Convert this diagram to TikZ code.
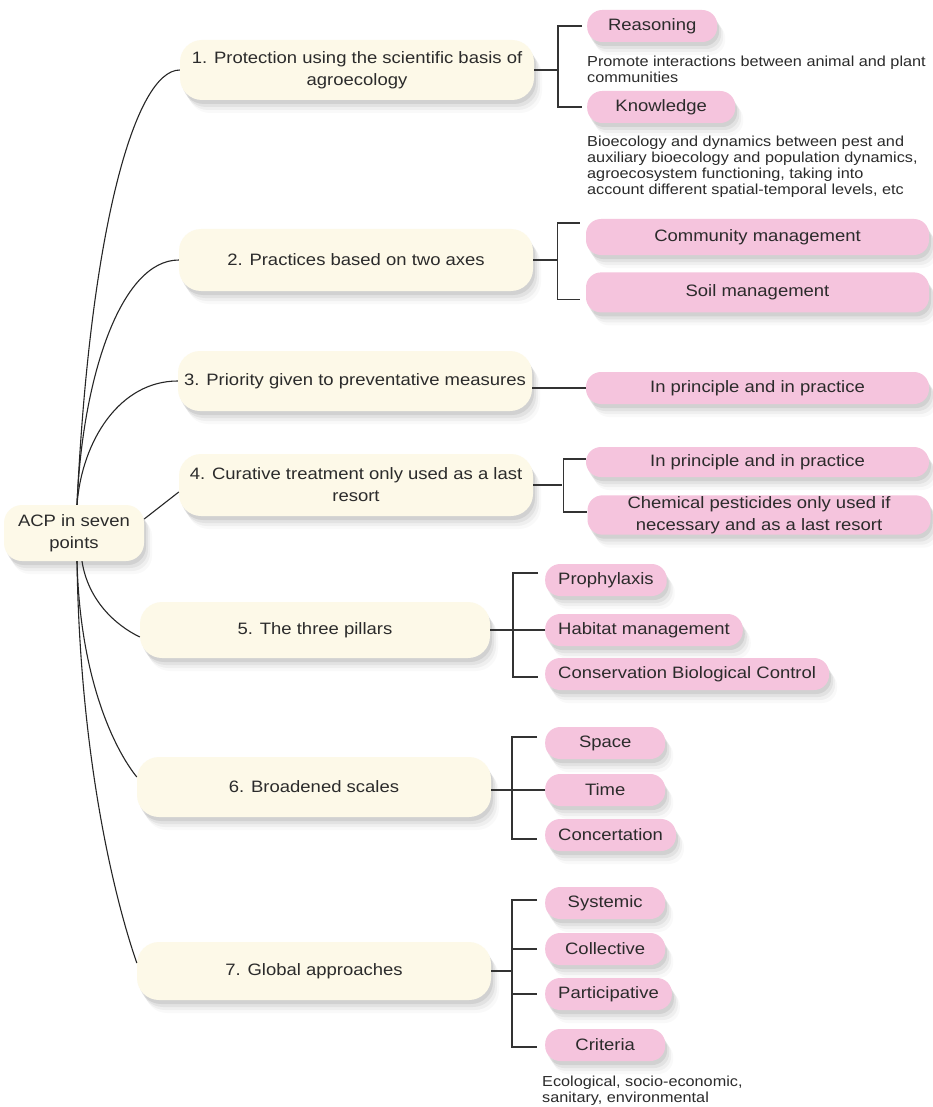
\documentclass[tikz,border=0pt]{standalone}
\usepackage{fontspec}
\setmainfont{Liberation Sans}[FakeStretch=1.12]
\usetikzlibrary{shapes,positioning,calc,shadows}
\definecolor{cream}{HTML}{FDF9E8}
\definecolor{pillpink}{HTML}{F5C4DD}
\definecolor{ink}{HTML}{2B2B2B}

\begin{document}
\begin{tikzpicture}
  [x=1pt,y=-1pt,
   every node/.style={font=\fontsize{16.5}{22}\selectfont, text=ink},
   soft/.style={
     drop shadow={shadow xshift=2pt,shadow yshift=-4pt,opacity=.07,fill=black},
     drop shadow={shadow xshift=4pt,shadow yshift=-7pt,opacity=.05,fill=black},
     drop shadow={shadow xshift=6pt,shadow yshift=-10pt,opacity=.04,fill=black},
     drop shadow={shadow xshift=8pt,shadow yshift=-13pt,opacity=.025,fill=black}
     },
   point/.style={
     rectangle,
     rounded corners=22pt,
     fill=cream,
     soft,
     minimum width=354pt,
     minimum height=60pt,
     align=center,
     inner xsep=4pt
     },
   tag/.style={
     rectangle,
     rounded corners=15pt,
     fill=pillpink,
     soft,
     minimum width=120pt,
     minimum height=32pt,
     align=center,
     inner xsep=13pt
     },
   wide/.style={tag, minimum width=343pt},
   note/.style={font=\fontsize{14.5}{16}\selectfont, align=left, inner sep=0pt},
   link/.style={line width=1.1pt, black!85},
   brace/.style={line width=1.3pt, black!80}
  ]
  \path[use as bounding box, fill=white] (0,0) rectangle (933,1107);

  % centre
  \node[point, minimum width=140pt, minimum height=56pt, rounded corners=18pt] (acp) at (74,533) {ACP in seven\\points};

  % the seven points
  \node[point] (prot) at (357,70) {1. Protection using the scientific basis of\\agroecology};
  \node[point, minimum height=62pt] (prac) at (356,260) {2. Practices based on two axes};
  \node[point] (prio) at (355,381) {3. Priority given to preventative measures};
  \node[point, minimum height=62pt] (cura) at (356,485) {4. Curative treatment only used as a last\\resort};
  \node[point, minimum width=350pt, minimum height=56pt] (pill) at (315,630) {5. The three pillars};
  \node[point] (scal) at (314,787) {6. Broadened scales};
  \node[point, minimum height=58pt] (glob) at (314,971) {7. Global approaches};

  % 1
  \node[tag, minimum width=130pt, anchor=west] (reas) at (587,26) {Reasoning};
  \node[note, below=43pt of reas.west, anchor=west] (reastext)
    {Promote interactions between animal and plant\\communities};
  \node[tag, minimum width=148pt, anchor=west] (know) at (587,107) {Knowledge};
  \node[note, below=60pt of know.west, anchor=west] (knowtext)
    {Bioecology and dynamics between pest and\\
     auxiliary bioecology and population dynamics,\\
     agroecosystem functioning, taking into\\
     account different spatial-temporal levels, etc};

  % 2
  \node[wide, minimum height=36pt] (comm) at (757.5,237) {Community management};
  \node[wide, minimum height=40pt, below=17pt of comm] (soil) {Soil management};

  % 3
  \node[wide] (prin) at (757.5,388) {In principle and in practice};

  % 4
  \node[wide, minimum height=30pt] (prinb) at (757.5,462) {In principle and in practice};
  \node[wide, inner ysep=1pt] (chem) at (759,515) {Chemical pesticides only used if\\necessary and as a last resort};

  % 5
  \node[tag, anchor=west] (prop) at (545,580) {Prophylaxis};
  \node[tag, below=50pt of prop.west, anchor=west] (habi) {Habitat management};
  \node[tag, below=94pt of prop.west, anchor=west] (cons) {Conservation Biological Control};

  % 6
  \node[tag, anchor=west] (spac) at (545,743) {Space};
  \node[tag, below=47pt of spac.west, anchor=west] (time) {Time};
  \node[tag, below=92pt of spac.west, anchor=west] (conc) {Concertation};

  % 7
  \node[tag, anchor=west] (syst) at (545,903) {Systemic};
  \node[tag, below=46pt of syst.west, anchor=west] (coll) {Collective};
  \node[tag, below=91pt of syst.west, anchor=west] (part) {Participative};
  \node[tag, below=142pt of syst.west, anchor=west] (crit) {Criteria};
  \node[note, below=46pt of crit.west, anchor=west, xshift=-3pt] (crittext)
    {Ecological, socio-economic,\\sanitary, environmental};

  % branches from the centre
  \draw[link] ($(acp.north)+(3,0)$) .. controls (90,230) and (135,70) .. (prot.west);
  \draw[link] ($(acp.north)+(3,0)$) .. controls (82,380) and (120,260) .. (prac.west);
  \draw[link] ($(acp.north)+(3,0)$) .. controls (82,440) and (120,381) .. (prio.west);
  \draw[link] ($(acp.east)+(0,-14)$) -- ($(cura.west)+(0,7)$);
  \draw[link] ($(acp.south)+(8,0)$) .. controls (88,600) and (115,625) .. ($(pill.west)+(0,7)$);
  \draw[link] ($(acp.south)+(3,0)$) .. controls (80,680) and (115,750) .. ($(scal.west)+(0,-10)$);
  \draw[link] ($(acp.south)+(3,0)$) .. controls (80,760) and (115,900) .. ($(glob.west)+(0,-8)$);

  % brackets
  \draw[brace] (prot.east) -- ++(23,0);
  \draw[brace] ($(reas.west)+(-5,0)$) -| ($(know.west)+(-29,0)$) -- ($(know.west)+(-5,0)$);

  \draw[brace] (prac.east) -- ++(25,0);
  \draw[brace] ($(comm.west)+(-6,-14)$) -| ($(soil.west)+(-28,7)$) -- ($(soil.west)+(-6,7)$);

  \draw[brace] (prin.west) -- (prin.west -| prio.east);

  \draw[brace] (cura.east) -- ++(29,0);
  \draw[brace] ($(prinb.west)+(0,-3)$) -| ($(chem.west)+(-24,-3)$) -- ($(chem.west)+(0,-3)$);

  \draw[brace] (habi.west) -- (habi.west -| pill.east);
  \draw[brace] ($(prop.west)+(-7,-7)$) -| ($(cons.west)+(-32,3)$) -- ($(cons.west)+(-7,3)$);

  \draw[brace] (time.west) -- (time.west -| scal.east);
  \draw[brace] ($(spac.west)+(-8,-6)$) -| ($(conc.west)+(-33,4)$) -- ($(conc.west)+(-8,4)$);

  \draw[brace] (glob.east) -- ++(21,0);
  \draw[brace] ($(syst.west)+(-8,-3)$) -| ($(crit.west)+(-33,2)$) -- ($(crit.west)+(-8,2)$);
  \draw[brace] ($(coll.west)+(-33,0)$) -- ($(coll.west)+(-8,0)$);
  \draw[brace] ($(part.west)+(-33,0)$) -- ($(part.west)+(-8,0)$);
\end{tikzpicture}
\end{document}
